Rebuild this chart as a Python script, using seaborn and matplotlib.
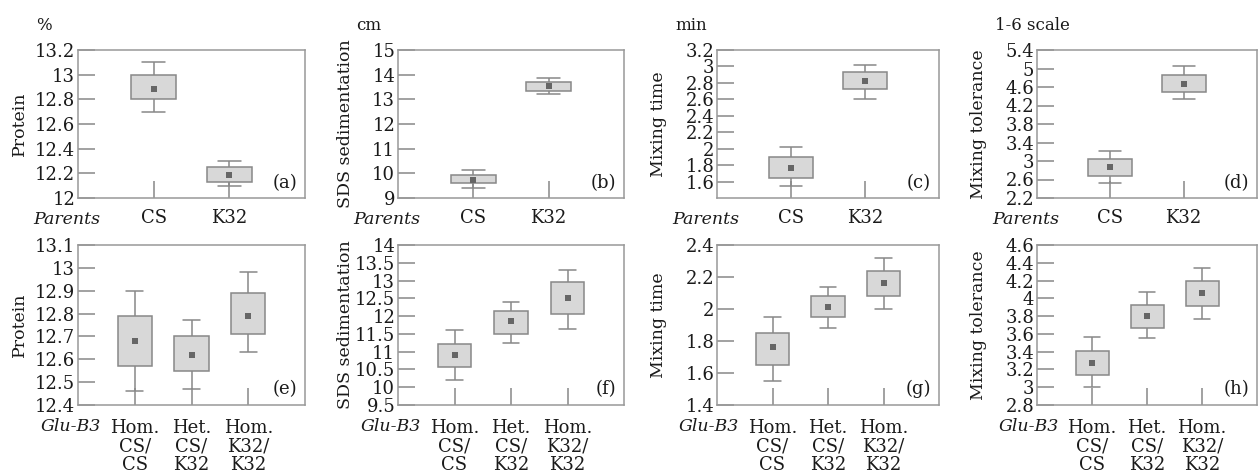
import matplotlib
matplotlib.use("Agg")
import matplotlib.pyplot as plt
import numpy as np
import pandas as pd
import seaborn as sns

PARENTS = ["CS", "K32"]
GLU_B3 = ["Hom.\nCS/\nCS", "Het.\nCS/\nK32", "Hom.\nK32/\nK32"]

# each row: whisker low, box low, mean, box high, whisker high
protein_parents = [[12.70, 12.80, 12.88, 13.00, 13.10],
                   [12.10, 12.13, 12.19, 12.25, 12.30]]
sds_parents = [[9.40, 9.60, 9.75, 9.95, 10.15],
               [13.20, 13.35, 13.55, 13.70, 13.85]]
mixtime_parents = [[1.54, 1.64, 1.76, 1.90, 2.02],
                   [2.61, 2.72, 2.82, 2.93, 3.02]]
mixtol_parents = [[2.52, 2.68, 2.87, 3.05, 3.22],
                  [4.34, 4.50, 4.67, 4.86, 5.06]]

protein_glu = [[12.46, 12.57, 12.68, 12.79, 12.90],
               [12.47, 12.55, 12.62, 12.70, 12.77],
               [12.63, 12.71, 12.79, 12.89, 12.98]]
sds_glu = [[10.20, 10.56, 10.90, 11.22, 11.60],
           [11.23, 11.50, 11.85, 12.15, 12.40],
           [11.65, 12.05, 12.50, 12.95, 13.30]]
mixtime_glu = [[1.55, 1.65, 1.76, 1.85, 1.95],
               [1.88, 1.95, 2.01, 2.08, 2.14],
               [2.00, 2.08, 2.16, 2.24, 2.32]]
mixtol_glu = [[3.00, 3.14, 3.27, 3.41, 3.56],
              [3.55, 3.67, 3.80, 3.93, 4.07],
              [3.77, 3.91, 4.06, 4.20, 4.34]]

Y_LABELS = ["Protein", "SDS sedimentation", "Mixing time", "Mixing tolerance"]
UNITS = ["%", "cm", "min", "1-6 scale"]
TAGS_TOP = ["(a)", "(b)", "(c)", "(d)"]
TAGS_BOTTOM = ["(e)", "(f)", "(g)", "(h)"]

# (ymin, ymax, first tick, step)
TOP_SCALES = [(12, 13.2, 12, 0.2), (9, 15, 9, 1), (1.4, 3.2, 1.6, 0.2), (2.2, 5.4, 2.2, 0.4)]
BOTTOM_SCALES = [(12.4, 13.1, 12.4, 0.1), (9.5, 14, 9.5, 0.5), (1.4, 2.4, 1.4, 0.2), (2.8, 4.6, 2.8, 0.2)]

BOX_FILL = "#d8d8d8"
EDGE = "#888888"
MARK = "#666666"
INK = "#1a1a1a"

W, H = 1258, 472
LEFTS = [78, 398, 717, 1037]
WIDTHS = [227, 226, 222, 220]
YLABEL_PAD = [50, 44, 50, 50]  # px from left spine

sns.set_theme(style="ticks")
plt.rcParams["font.family"] = ["DejaVu Serif"]
plt.rcParams["axes.edgecolor"] = "#999999"
plt.rcParams["axes.linewidth"] = 1.1

fig = plt.figure(figsize=(W / 100, H / 100), dpi=100)


def draw_panel(rect, cats, rows, scale, ylabel, ylabel_pad, tag, group_label,
               xpad, group_pad, unit=None):
    ax = fig.add_axes([rect[0] / W, 1 - rect[3] / H, rect[2] / W, (rect[3] - rect[1]) / H])
    df = pd.DataFrame({"group": np.repeat(cats, 5), "value": np.ravel(rows)})
    sns.boxplot(data=df, x="group", y="value", order=cats, whis=(0, 100), width=0.6,
                color=BOX_FILL, linecolor=EDGE, linewidth=1.1, saturation=1,
                medianprops={"visible": False}, showfliers=False, ax=ax)
    means = [r[2] for r in rows]
    sns.stripplot(x=cats, y=means, order=cats, jitter=False, marker="s", size=4.5,
                  color=MARK, zorder=3, ax=ax)

    ymin, ymax, start, step = scale
    ticks = np.round(np.arange(start, ymax + step / 2, step), 2)
    ax.set_ylim(ymin, ymax)
    ax.set_yticks(ticks)
    ax.set_yticklabels([f"{t:g}" for t in ticks])
    ax.set_xlim(-1, len(cats))
    ax.set_xlabel("")
    ax.set_ylabel(ylabel, fontsize=12.5, color=INK)
    ax.yaxis.set_label_coords(-ylabel_pad / rect[2], 0.5)

    ax.tick_params(axis="both", direction="in", length=12, width=1.1, color=EDGE,
                   labelsize=13, labelcolor=INK)
    ax.tick_params(axis="y", pad=2)
    ax.tick_params(axis="x", pad=xpad)
    for lbl in ax.get_xticklabels():
        lbl.set_linespacing(1.05)

    ax.annotate(group_label, xy=(0.1, 0), xycoords="axes fraction", xytext=(0, -group_pad),
                textcoords="offset points", ha="right", va="top", fontstyle="italic",
                fontsize=12.5, color=INK)
    ax.text(0.965, 0.1, tag, transform=ax.transAxes, ha="right", va="center",
            fontsize=13, color=INK)
    if unit:
        ax.annotate(unit, xy=(0, 1), xycoords="axes fraction", xytext=(-42 * 0.72, 24 * 0.72),
                    textcoords="offset points", ha="left", va="center", fontsize=12,
                    color=INK)
    return ax


top_data = [protein_parents, sds_parents, mixtime_parents, mixtol_parents]
bottom_data = [protein_glu, sds_glu, mixtime_glu, mixtol_glu]

for i in range(4):
    draw_panel((LEFTS[i], 50, WIDTHS[i], 198), PARENTS, top_data[i], TOP_SCALES[i],
               Y_LABELS[i], YLABEL_PAD[i], TAGS_TOP[i], "Parents", 8, 9.5, UNITS[i])
    draw_panel((LEFTS[i], 245, WIDTHS[i], 405), GLU_B3, bottom_data[i], BOTTOM_SCALES[i],
               Y_LABELS[i], YLABEL_PAD[i], TAGS_BOTTOM[i], "Glu-B3", 10, 9.5)

fig.savefig("out.png", dpi=100, facecolor="white")
